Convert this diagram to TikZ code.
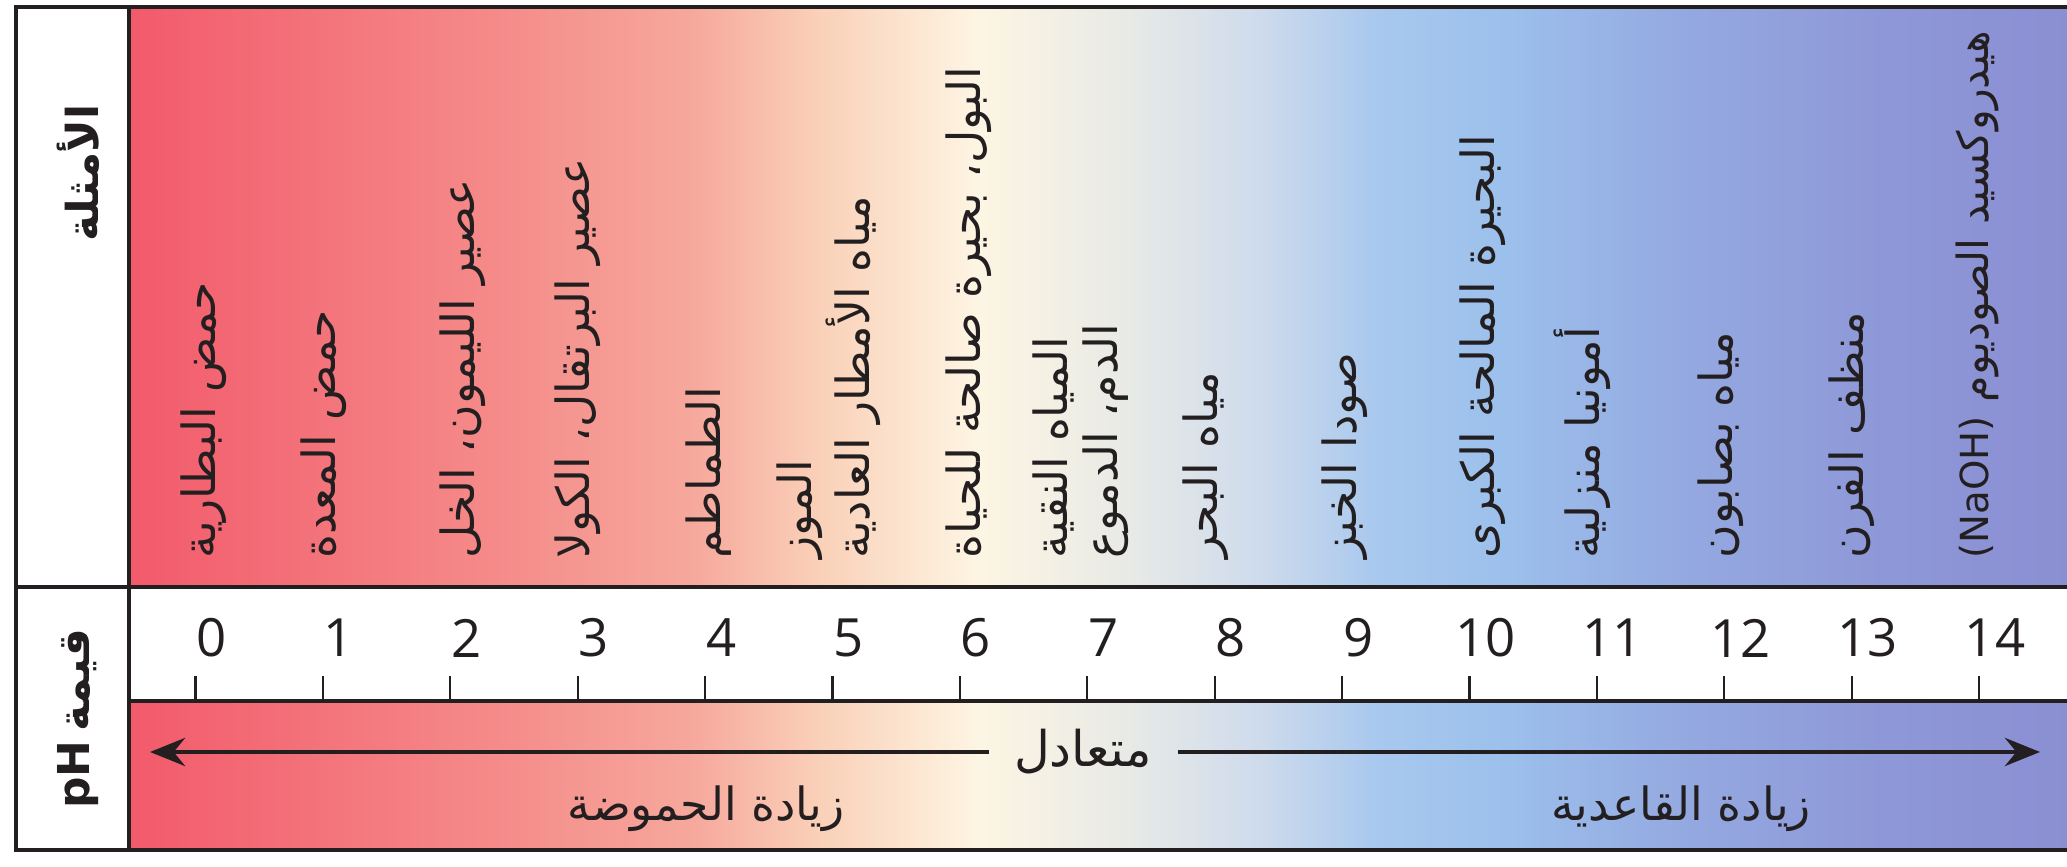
\documentclass[tikz,border=0pt]{standalone}
\usepackage{fontspec}
\usetikzlibrary{arrows.meta}
\TeXXeTstate=1
\newfontfamily\arabicfont[Script=Arabic]{DejaVu Sans}
\newfontfamily\numfont{Open Sans}
\newcommand{\ar}[1]{\beginR #1\endR}

\definecolor{inkdark}{HTML}{231F20}
\definecolor{phA}{HTML}{F25A6B}
\definecolor{phB}{HTML}{F58C8A}
\definecolor{phC}{HTML}{F6A89C}
\definecolor{phD}{HTML}{FAD0B8}
\definecolor{phE}{HTML}{FDF5E3}
\definecolor{phF}{HTML}{E8EAE6}
\definecolor{phG}{HTML}{D0DCEC}
\definecolor{phH}{HTML}{A8C8EE}
\definecolor{phI}{HTML}{9CC0EC}
\definecolor{phJ}{HTML}{94A8E0}
\definecolor{phK}{HTML}{8E98D8}
\definecolor{phL}{HTML}{8A8ED2}

% degradado acido -> basico (parte util: 25bp .. 75bp)
\pgfdeclarehorizontalshading{phband}{100bp}{color(0bp)=(phA); color(25bp)=(phA);
  color(34.6bp)=(phB); color(39.4bp)=(phC); color(42.6bp)=(phD); color(46.7bp)=(phE);
  color(50.5bp)=(phF); color(53.7bp)=(phG); color(56.9bp)=(phH); color(60.1bp)=(phI);
  color(64.9bp)=(phJ); color(69.7bp)=(phK); color(75bp)=(phL); color(100bp)=(phL)}

\tikzset{
  frame/.style={line width=1.4pt, draw=inkdark},
  example/.style={rotate=90, anchor=west, inner sep=0pt, align=left, text=inkdark,
    font=\arabicfont\fontsize{13}{14.2}\selectfont},
  phnum/.style={inner sep=0pt, text=inkdark, font=\numfont\fontsize{15}{18}\selectfont},
  bandlabel/.style={inner sep=0pt, text=inkdark, font=\arabicfont\fontsize{13}{16}\selectfont},
  sidelabel/.style={rotate=90, inner sep=0pt, text=inkdark,
    font=\arabicfont\bfseries\fontsize{12.5}{15}\selectfont},
}

\begin{document}
\begin{tikzpicture}[>={Stealth[length=3.5mm,width=2.8mm]}]
  \def\W{20.67}
  \def\H{8.67}
  \def\xL{0.16}
  \def\xD{1.29}
  \def\yT{8.60}
  \def\yB{0.17}
  \def\yNum{2.80}
  \def\yBand{1.66}
  \def\xZero{1.955}
  \def\dX{1.274}
  \def\yTxt{3.08}
  \def\yArr{1.15}

  \useasboundingbox (0,0) rectangle (\W,\H);
  \clip (0,0) rectangle (\W,\H);
  \fill[white] (0,0) rectangle (\W,\H);

  % Fondo degradado
  \shade[shading=phband] (\xD,\yB) rectangle (\W+0.2,\yT);
  \fill[white] (\xD,\yBand) rectangle (\W+0.2,\yNum);

  % Marco y divisiones
  \draw[frame] (\W+0.2,\yT) -- (\xL,\yT) -- (\xL,\yB) -- (\W+0.2,\yB);
  \draw[frame] (\xD,\yT) -- (\xD,\yB);
  \draw[frame] (\xL,\yNum) -- (\W+0.2,\yNum);
  \draw[frame] (\xD,\yBand) -- (\W+0.2,\yBand);

  % Etiquetas laterales
  \node[sidelabel] (lblEx) at (0.78,6.94) {\ar{الأمثلة}};
  \node[sidelabel] (lblPH) at (0.78,1.48) {\ar{قيمة\hspace{0.2em}\beginL pH\endL}};

  % Escala 0..14
  \foreach \k in {0,...,14}{
    \pgfmathsetmacro{\xx}{\xZero + \k*\dX}
    \draw[inkdark, line width=0.6pt] (\xx,\yBand) -- (\xx,\yBand+0.25);
    \node[phnum] (n\k) at (\xx+0.16,2.29) {\k};
  }

  % Ejemplos
  \node[example] (ex0) at ({\xZero+0*\dX+0.08},\yTxt) {\ar{حمض البطارية}};
  \node[example] (ex1) at ({\xZero+1*\dX+0.01},\yTxt) {\ar{حمض المعدة}};
  \node[example] (ex2) at ({\xZero+2*\dX+0.12},\yTxt) {\ar{عصير الليمون، الخل}};
  \node[example] (ex3) at ({\xZero+3*\dX},\yTxt) {\ar{عصير البرتقال، الكولا}};
  \node[example] (ex4) at ({\xZero+4*\dX+0.04},\yTxt) {\ar{الطماطم}};
  \node[example] (ex5) at ({\xZero+5*\dX-0.04},\yTxt) {\ar{الموز}\\\ar{مياه الأمطار العادية}};
  \node[example] (ex6) at ({\xZero+6*\dX+0.09},\yTxt) {\ar{البول، بحيرة صالحة للحياة}};
  \node[example] (ex7) at ({\xZero+7*\dX-0.07},\yTxt) {\ar{المياه النقية}\\\ar{الدم، الدموع}};
  \node[example] (ex8) at ({\xZero+8*\dX-0.09},\yTxt) {\ar{مياه البحر}};
  \node[example] (ex9) at ({\xZero+9*\dX+0.03},\yTxt) {\ar{صودا الخبز}};
  \node[example] (ex10) at ({\xZero+10*\dX+0.13},\yTxt) {\ar{البحيرة المالحة الكبرى}};
  \node[example] (ex11) at ({\xZero+11*\dX-0.15},\yTxt) {\ar{أمونيا منزلية}};
  \node[example] (ex12) at ({\xZero+12*\dX-0.04},\yTxt) {\ar{مياه بصابون}};
  \node[example] (ex13) at ({\xZero+13*\dX},\yTxt) {\ar{منظف الفرن}};
  \node[example, font=\arabicfont\fontsize{12.2}{14}\selectfont] (ex14) at ({\xZero+14*\dX-0.02},\yTxt)
    {\ar{هيدروكسيد الصوديوم \beginL{\fontsize{11}{14}\selectfont(NaOH)}\endL}};

  % Flechas acido / basico
  \node[bandlabel, font=\arabicfont\fontsize{14}{16}\selectfont, inner xsep=0.25cm] (neutral) at (10.83,\yArr) {\ar{متعادل}};
  \coordinate (acidTip) at (1.50,\yArr);
  \coordinate (baseTip) at (20.40,\yArr);
  \draw[->, inkdark, line width=1.4pt] (neutral.west) -- (acidTip);
  \draw[->, inkdark, line width=1.4pt] (neutral.east) -- (baseTip);
  \node[bandlabel] (acidLbl) at (7.06,0.58) {\ar{زيادة الحموضة}};
  \node[bandlabel] (baseLbl) at (16.81,0.58) {\ar{زيادة القاعدية}};
\end{tikzpicture}
\end{document}
